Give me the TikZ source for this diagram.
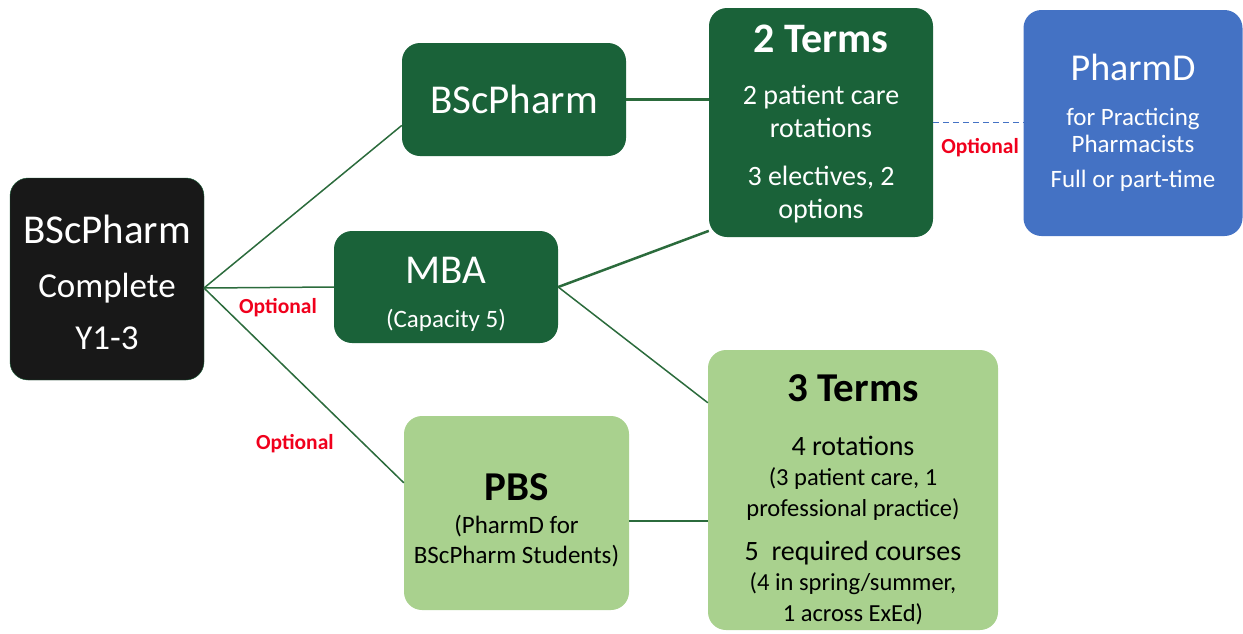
\documentclass[tikz,border=0pt]{standalone}
\usepackage{fontspec}
\setmainfont{Carlito}
\usetikzlibrary{positioning}

\definecolor{darkgreen}{HTML}{1A6239}
\definecolor{lightgreen}{HTML}{A9D18E}
\definecolor{pharmblue}{HTML}{4472C4}
\definecolor{optred}{HTML}{F0001C}
\definecolor{linegreen}{HTML}{2B6B3C}
\definecolor{nearblack}{HTML}{181818}

\tikzset{
  box/.style={rounded corners=18pt, align=center, inner sep=0pt},
  blackbox/.style={box, fill=nearblack, draw=darkgreen, text=white},
  darkbox/.style={box, fill=darkgreen, text=white},
  lightbox/.style={box, fill=lightgreen, text=black},
  bluebox/.style={box, fill=pharmblue, text=white},
  link/.style={draw=linegreen, line width=1.5pt},
  thicklink/.style={draw=linegreen, line width=2.5pt},
  dashlink/.style={draw=pharmblue, line width=1.5pt, dash pattern=on 6pt off 4pt},
  opt/.style={text=optred, font=\fontsize{21.5}{24}\selectfont\bfseries, inner sep=0pt}
}

\begin{document}
\begin{tikzpicture}[x=1pt, y=-1pt]
\useasboundingbox (0,0) rectangle (1243,633);

\node[blackbox, minimum width=194pt, minimum height=202pt, font=\fontsize{35}{52}\selectfont] (base) at (107,279)
  {\rule{0pt}{35pt}{\fontsize{41}{41}\selectfont BScPharm}\\[2pt] Complete\\ Y1-3};

\node[darkbox, minimum width=224pt, minimum height=113pt, font=\fontsize{41}{49}\selectfont] (bsc) at (514,99.5) {BScPharm};

\node[darkbox, minimum width=224pt, minimum height=229pt, font=\fontsize{28}{33}\selectfont] (two) at (821,122.5)
  {\rule{0pt}{30pt}{\fontsize{42}{42}\selectfont\bfseries 2 Terms}\\[19pt] 2 patient care\\ rotations\\[15pt] 3 electives, 2\\ options};

\node[bluebox, minimum width=219pt, minimum height=226pt, font=\fontsize{25}{27}\selectfont] (pharmd) at (1133,123)
  {{\fontsize{38}{38}\selectfont PharmD}\\[18pt] for Practicing\\ Pharmacists\\[8pt] Full or part-time};

\node[darkbox, minimum width=224pt, minimum height=112pt, font=\fontsize{25}{30}\selectfont] (mba) at (446,287)
  {\rule{0pt}{42pt}{\fontsize{41}{41}\selectfont MBA}\\[14pt] (Capacity 5)};

\node[lightbox, minimum width=225pt, minimum height=194pt, font=\fontsize{25}{30}\selectfont] (pbs) at (516.5,513)
  {\rule{0pt}{41pt}{\fontsize{41}{41}\selectfont\bfseries PBS}\\[3pt] (PharmD for\\ BScPharm Students)};

\node[lightbox, minimum width=290pt, minimum height=280pt, font=\fontsize{24.5}{30.5}\selectfont] (three) at (853,490)
  {\rule{0pt}{46pt}{\fontsize{41}{41}\selectfont\bfseries 3 Terms}\\[23.5pt] {\fontsize{28}{30}\selectfont 4 rotations}\\ (3 patient care, 1\\ professional practice)\\[13.5pt] {\fontsize{28}{30}\selectfont 5\ \ required courses}\\ (4 in spring/summer,\\ 1 across ExEd)};

\coordinate (hub) at (204,288);

\draw[link] (hub) -- (bsc.193.8);
\draw[link] (hub) -- node[opt, pos=.57, yshift=-20pt] (opt1) {Optional} (mba.west);
\draw[link] (hub) -- node[opt, pos=.78, xshift=-65pt, yshift=-4pt] (opt2) {Optional} (pbs.165.5);

\draw[thicklink] (bsc.east) -- (bsc.east -| two.west);
\draw[thicklink] (mba.east) -- (two.224);
\draw[link] (mba.east) -- (three.149.6);
\draw[thicklink] (pbs.-4) -- (pbs.-4 -| three.west);

\draw[dashlink] (two.east) -- node[opt, pos=.52, yshift=-25pt] (opt3) {Optional} (two.east -| pharmd.west);

\end{tikzpicture}
\end{document}
